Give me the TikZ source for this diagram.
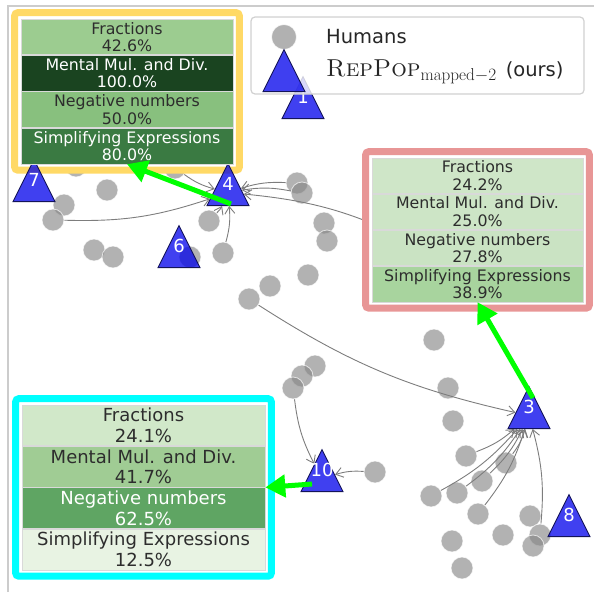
\documentclass[tikz,border=0pt]{standalone}
\usepackage{fontspec}
\newfontfamily\dejavu{DejaVu Sans}
\usetikzlibrary{positioning, arrows.meta, shapes.geometric, fit, calc}

\definecolor{dotgray}{RGB}{134,134,134}
\definecolor{popblue}{RGB}{0,0,235}
\definecolor{popedge}{RGB}{20,20,90}
\definecolor{linkgray}{RGB}{125,125,125}
\definecolor{axisgray}{RGB}{204,204,204}
\definecolor{txtdark}{RGB}{45,45,45}
\definecolor{pickgreen}{RGB}{0,255,0}
\definecolor{yframe}{RGB}{255,217,102}
\definecolor{rframe}{RGB}{232,150,150}
\definecolor{cframe}{RGB}{0,255,255}
\definecolor{yA}{HTML}{9CCC90}
\definecolor{yB}{HTML}{1A4420}
\definecolor{yC}{HTML}{88C07E}
\definecolor{yD}{HTML}{3A7A42}
\definecolor{rA}{HTML}{CFE6C8}
\definecolor{rB}{HTML}{CDE5C6}
\definecolor{rC}{HTML}{CAE3C3}
\definecolor{rD}{HTML}{A8D49E}
\definecolor{cA}{HTML}{D1E8C9}
\definecolor{cB}{HTML}{A0CC94}
\definecolor{cC}{HTML}{5FA563}
\definecolor{cD}{HTML}{E8F3E3}

\pgfdeclarelayer{bg}
\pgfdeclarelayer{frames}
\pgfsetlayers{bg,frames,main}

\tikzset{
    human/.style={circle, minimum size=22, inner sep=0, fill=dotgray, fill opacity=0.64,
        draw=white, draw opacity=0.7, line width=0.8},
    pop/.style={isosceles triangle, shape border rotate=90, isosceles triangle stretches,
        minimum width=42, minimum height=42, inner sep=0, anchor=lower side,
        fill=popblue, fill opacity=0.75, draw=popedge, line width=0.9},
    poptext/.style={inner sep=0, text=white, font=\dejavu\fontsize{18}{18}\selectfont},
    link/.style={draw=linkgray, line width=0.9, -{Straight Barb[length=7,width=10]}, bend right=10},
    cell/.style={inner sep=0, align=center, draw=black!15, line width=0.6, text=txtdark,
        font=\dejavu\fontsize{15.8}{17.5}\selectfont},
    ycell/.style={cell, minimum width=212, minimum height=35.75},
    rcell/.style={cell, minimum width=211, minimum height=35.5},
    ccell/.style={cell, minimum width=243, minimum height=40.75,
        font=\dejavu\fontsize{18}{20.4}\selectfont},
    frame/.style={draw=#1, line width=7, rounded corners=3, inner sep=6, fill=white},
    pick/.style={draw=pickgreen, line width=5, -{Triangle[length=20,width=22]}},
}

\begin{document}
\begin{tikzpicture}[x=1pt, y=-1pt]
    \useasboundingbox (0,0) rectangle (594,592);
    \draw[axisgray, line width=1.5] (8,592) -- (8,6) -- (594,6);

    % model points
    \node[pop] (t1) at (303,119) {};
    \node[pop] (t7) at (34,202) {};
    \node[pop] (t4) at (228,206) {};
    \node[pop] (t6) at (179,268) {};
    \node[pop] (t3) at (529,429) {};
    \node[pop] (t10) at (322,492) {};
    \node[pop] (t8) at (569,537) {};
    \node[poptext] (n1) at ($(t1.apex)!0.5!(t1.lower side)$) {1};
    \node[poptext] (n7) at ($(t7.apex)!0.5!(t7.lower side)$) {7};
    \node[poptext] (n4) at ($(t4.apex)!0.5!(t4.lower side)$) {4};
    \node[poptext] (n6) at ($(t6.apex)!0.5!(t6.lower side)$) {6};
    \node[poptext] (n3) at ($(t3.apex)!0.5!(t3.lower side)$) {3};
    \node[poptext] (n10) at ($(t10.apex)!0.5!(t10.lower side)$) {10};
    \node[poptext] (n8) at ($(t8.apex)!0.5!(t8.lower side)$) {8};

    \begin{pgfonlayer}{bg}
    % human points
    \node[human] (h1) at (76,166) {};
    \node[human] (h2) at (175,168) {};
    \node[human] (h3) at (107,190) {};
    \node[human] (h4) at (64,205) {};
    \node[human] (h5) at (53,220) {};
    \node[human] (h6) at (94,250) {};
    \node[human] (h7) at (113,257) {};
    \node[human] (h8) at (209,221) {};
    \node[human] (h9) at (223,253) {};
    \node[human] (h10) at (190,257) {};
    \node[human] (h11) at (270,286) {};
    \node[human] (h12) at (249,299) {};
    \node[human] (h13) at (297,183) {};
    \node[human] (h14) at (302,193) {};
    \node[human] (h15) at (324,223) {};
    \node[human] (h16) at (327,241) {};
    \node[human] (h17) at (308,275) {};
    \node[human] (h18) at (420,245) {};
    \node[human] (h19) at (434,340) {};
    \node[human] (h20) at (315,366) {};
    \node[human] (h21) at (302,376) {};
    \node[human] (h22) at (293,388) {};
    \node[human] (h23) at (448,388) {};
    \node[human] (h24) at (453,421) {};
    \node[human] (h25) at (375,472) {};
    \node[human] (h26) at (466,456) {};
    \node[human] (h27) at (506,463) {};
    \node[human] (h28) at (482,481) {};
    \node[human] (h29) at (431,496) {};
    \node[human] (h30) at (457,493) {};
    \node[human] (h31) at (478,514) {};
    \node[human] (h32) at (530,516) {};
    \node[human] (h33) at (540,535) {};
    \node[human] (h34) at (533,546) {};
    \node[human] (h35) at (503,535) {};
    \node[human] (h36) at (452,541) {};
    \node[human] (h37) at (462,568) {};

    \draw[link]
        (h5) edge (t4)
        (h2) edge (t4)
        (h8) edge (t4)
        (h9) edge (t4)
        (h13) edge (t4)
        (h14) edge (t4)
        (h18) edge (t4)
        (h12) edge (t3)
        (h26) edge (t3)
        (h27) edge (t3)
        (h28) edge (t3)
        (h29) edge (t3)
        (h30) edge (t3)
        (h31) edge (t3)
        (h33) edge (t3)
        (h22) edge (t10)
        (h25) edge (t10)
        ;
    \end{pgfonlayer}

    % legend
    \node[draw=black!18, line width=1.2, rounded corners=4, fill=white, fill opacity=0.8,
        minimum width=333, minimum height=77] (legend) at (417.5,55.5) {};
    \node[human, minimum size=25] (lhum) at (284,37) {};
    \node[pop] (lpop) at (284,92) {};
    \node[anchor=west, inner sep=0, font=\dejavu\fontsize{19.5}{20}\selectfont, text=black!85]
        (lhumtxt) at (326,37) {Humans};
    \node[anchor=west, inner sep=0, font=\fontsize{24.5}{25}\selectfont, text=black!85]
        (lpoptxt) at (326,72) {\textsc{RepPop}$_{\mathrm{mapped}-2}$\hspace{9pt}{\dejavu\fontsize{19.5}{20}\selectfont (ours)}};

    % cluster 4
    \node[ycell, fill=yA] (yA) at (127,36.9) {Fractions\\42.6\%};
    \node[ycell, fill=yB, text=white, below=0pt of yA] (yB) {Mental Mul. and Div.\\100.0\%};
    \node[ycell, fill=yC, below=0pt of yB] (yC) {Negative numbers\\50.0\%};
    \node[ycell, fill=yD, text=white, below=0pt of yC] (yD) {Simplifying Expressions\\80.0\%};

    % cluster 3
    \node[rcell, fill=rA] (rA) at (477.5,175.75) {Fractions\\24.2\%};
    \node[rcell, fill=rB, below=0pt of rA] (rB) {Mental Mul. and Div.\\25.0\%};
    \node[rcell, fill=rC, below=0pt of rB] (rC) {Negative numbers\\27.8\%};
    \node[rcell, fill=rD, below=0pt of rC] (rD) {Simplifying Expressions\\38.9\%};

    % cluster 10
    \node[ccell, fill=cA] (cA) at (143.5,425.4) {Fractions\\24.1\%};
    \node[ccell, fill=cB, below=0pt of cA] (cB) {Mental Mul. and Div.\\41.7\%};
    \node[ccell, fill=cC, text=white, below=0pt of cB] (cC) {Negative numbers\\62.5\%};
    \node[ccell, fill=cD, below=0pt of cC] (cD) {Simplifying Expressions\\12.5\%};

    \begin{pgfonlayer}{frames}
    \node[frame=yframe, fit=(yA)(yD)] (ybox) {};
    \node[frame=rframe, fit=(rA)(rD)] (rbox) {};
    \node[frame=cframe, fit=(cA)(cD)] (cbox) {};
    \end{pgfonlayer}

    \coordinate (g4) at (231,204);
    \coordinate (g3) at (533,398);
    \coordinate (g10) at (312,484);
    \draw[pick] (g4) -- (yD.south);
    \draw[pick] (g3) -- (rD.south);
    \draw[pick] (g10) -- (cC.south east |- cbox.center);
\end{tikzpicture}
\end{document}
